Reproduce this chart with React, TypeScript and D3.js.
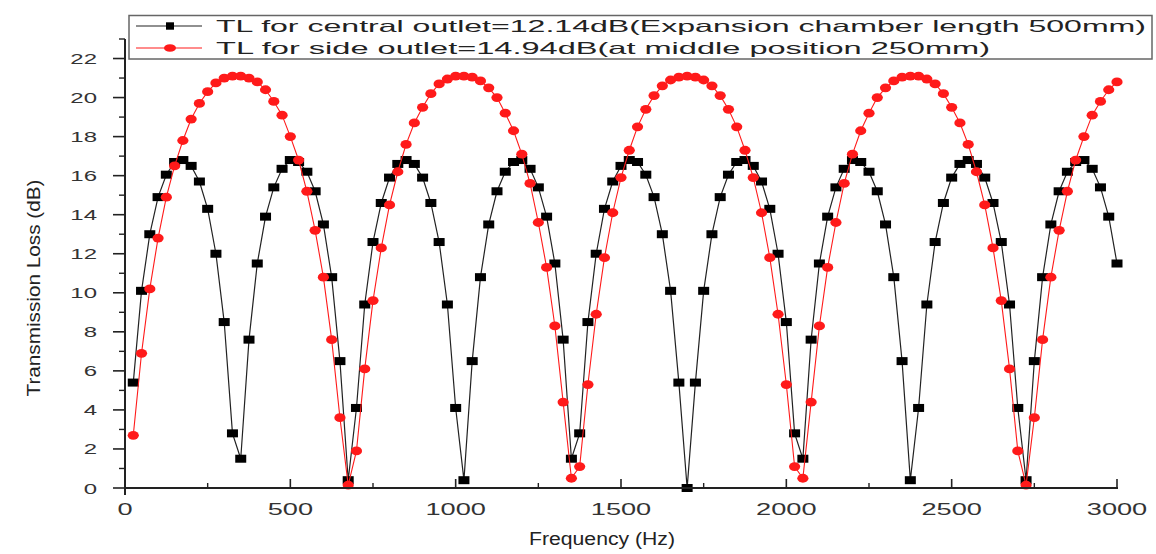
import * as d3 from 'd3';

// frequency grid (one marker every 25 Hz)
const FREQ_HZ = [
  25, 50, 75, 100, 125, 150, 175, 200, 225, 250, 275, 300, 325, 350, 375, 400, 425, 450, 475, 500,
  525, 550, 575, 600, 625, 650, 675, 700, 725, 750, 775, 800, 825, 850, 875, 900, 925, 950, 975, 1000,
  1025, 1050, 1075, 1100, 1125, 1150, 1175, 1200, 1225, 1250, 1275, 1300, 1325, 1350, 1375, 1400, 1425, 1450, 1475, 1500,
  1525, 1550, 1575, 1600, 1625, 1650, 1675, 1700, 1725, 1750, 1775, 1800, 1825, 1850, 1875, 1900, 1925, 1950, 1975, 2000,
  2025, 2050, 2075, 2100, 2125, 2150, 2175, 2200, 2225, 2250, 2275, 2300, 2325, 2350, 2375, 2400, 2425, 2450, 2475, 2500,
  2525, 2550, 2575, 2600, 2625, 2650, 2675, 2700, 2725, 2750, 2775, 2800, 2825, 2850, 2875, 2900, 2925, 2950, 2975, 3000,
];

// TL for central outlet (black squares)
const TL_CENTRAL = [
  5.4, 10.1, 13.0, 14.9, 16.05, 16.7, 16.8, 16.5, 15.7, 14.3, 12.0, 8.5, 2.8, 1.5, 7.6, 11.5, 13.9, 15.4, 16.35, 16.8,
  16.7, 16.2, 15.2, 13.5, 10.8, 6.5, 0.4, 4.1, 9.4, 12.6, 14.6, 15.9, 16.6, 16.8, 16.6, 15.9, 14.6, 12.6, 9.4, 4.1,
  0.4, 6.5, 10.8, 13.5, 15.2, 16.2, 16.7, 16.8, 16.35, 15.4, 13.9, 11.5, 7.6, 1.5, 2.8, 8.5, 12.0, 14.3, 15.7, 16.5,
  16.8, 16.7, 16.05, 14.9, 13.0, 10.1, 5.4, 0, 5.4, 10.1, 13.0, 14.9, 16.05, 16.7, 16.8, 16.5, 15.7, 14.3, 12.0, 8.5,
  2.8, 1.5, 7.6, 11.5, 13.9, 15.4, 16.35, 16.8, 16.7, 16.2, 15.2, 13.5, 10.8, 6.5, 0.4, 4.1, 9.4, 12.6, 14.6, 15.9,
  16.6, 16.8, 16.6, 15.9, 14.6, 12.6, 9.4, 4.1, 0.4, 6.5, 10.8, 13.5, 15.2, 16.2, 16.7, 16.8, 16.35, 15.4, 13.9, 11.5,
];

// TL for side outlet (red circles)
const TL_SIDE = [
  2.7, 6.9, 10.2, 12.8, 14.9, 16.5, 17.8, 18.9, 19.7, 20.3, 20.75, 21.0, 21.1, 21.1, 21.0, 20.8, 20.4, 19.8, 19.1, 18.0,
  16.8, 15.2, 13.2, 10.8, 7.6, 3.6, 0.15, 1.9, 6.1, 9.6, 12.3, 14.5, 16.2, 17.6, 18.7, 19.5, 20.2, 20.7, 20.95, 21.1,
  21.1, 21.05, 20.85, 20.5, 20.0, 19.2, 18.3, 17.1, 15.6, 13.6, 11.3, 8.3, 4.4, 0.5, 1.1, 5.3, 8.9, 11.8, 14.1, 15.9,
  17.3, 18.5, 19.4, 20.1, 20.6, 20.9, 21.05, 21.1, 21.05, 20.9, 20.6, 20.1, 19.4, 18.5, 17.3, 15.9, 14.1, 11.8, 8.9, 5.3,
  1.1, 0.5, 4.4, 8.3, 11.3, 13.6, 15.6, 17.1, 18.3, 19.2, 20.0, 20.5, 20.85, 21.05, 21.1, 21.1, 20.95, 20.7, 20.2, 19.5,
  18.7, 17.6, 16.2, 14.5, 12.3, 9.6, 6.1, 1.9, 0.15, 3.6, 7.6, 10.8, 13.2, 15.2, 16.8, 18.0, 19.1, 19.8, 20.4, 20.8,
];

const X_TICKS = [0, 500, 1000, 1500, 2000, 2500, 3000];
const X_MINOR = [250, 750, 1250, 1750, 2250, 2750];
const Y_TICKS = [0, 2, 4, 6, 8, 10, 12, 14, 16, 18, 20, 22];
const Y_MINOR = [1, 3, 5, 7, 9, 11, 13, 15, 17, 19, 21, 23];

const LEGEND_LABELS = [
  'TL for central outlet=12.14dB(Expansion chamber length 500mm)',
  'TL for side outlet=14.94dB(at middle position 250mm)',
];

const FONT = '"Liberation Sans", Arial, sans-serif';
const RED = '#ff1a1a';

export default function App() {
  const width = 1156;
  const height = 554;

  const x = d3.scaleLinear().domain([0, 3000]).range([125, 1117]);
  const y = d3.scaleLinear().domain([0, 23]).range([488, 39]);

  const central = FREQ_HZ.map((f, i) => ({ f, v: TL_CENTRAL[i] }));
  const side = FREQ_HZ.map((f, i) => ({ f, v: TL_SIDE[i] }));

  const line = d3.line<{ f: number; v: number }>()
    .x(d => x(d.f))
    .y(d => y(d.v));

  const y0 = y(0);

  return (
    <svg
      width={width}
      height={height}
      style={{ position: 'absolute', left: 0, top: 0, background: '#fff' }}
      fontFamily={FONT}
    >
      {/* series: central outlet */}
      <path d={line(central) || ''} fill="none" stroke="#222" strokeWidth={1.2} />
      {central.map((d, i) => (
        <rect key={'c' + i} x={x(d.f) - 5.5} y={y(d.v) - 4} width={11} height={8} fill="#000" />
      ))}

      {/* series: side outlet */}
      <path d={line(side) || ''} fill="none" stroke={RED} strokeWidth={1.1} />
      {side.map((d, i) => (
        <ellipse key={'s' + i} cx={x(d.f)} cy={y(d.v)} rx={5.6} ry={4.4} fill={RED} />
      ))}

      {/* axes */}
      <line x1={x(0)} x2={x(0)} y1={y(23)} y2={y0 + 7} stroke="#222" strokeWidth={2} />
      <line x1={x(0) - 1} x2={x(3000) + 1} y1={y0} y2={y0} stroke="#222" strokeWidth={2} />

      {Y_TICKS.map(t => (
        <g key={'yt' + t}>
          <line x1={x(0) - 12} x2={x(0)} y1={y(t)} y2={y(t)} stroke="#222" strokeWidth={1.6} />
          <text
            transform={`translate(97,${y(t) + 5.5}) scale(1.6,1)`}
            textAnchor="end"
            fontSize={15}
            fill="#333"
          >
            {t}
          </text>
        </g>
      ))}
      {Y_MINOR.map(t => (
        <line key={'ym' + t} x1={x(0) - 6} x2={x(0)} y1={y(t)} y2={y(t)} stroke="#222" strokeWidth={1.4} />
      ))}

      {X_TICKS.map(t => (
        <g key={'xt' + t}>
          {t > 0 && <line x1={x(t)} x2={x(t)} y1={y0} y2={y0 - 9} stroke="#222" strokeWidth={1.6} />}
          <text
            transform={`translate(${x(t)},${y0 + 27}) scale(1.7,1)`}
            textAnchor="middle"
            fontSize={16}
            fill="#333"
          >
            {t}
          </text>
        </g>
      ))}
      {X_MINOR.map(t => (
        <line key={'xm' + t} x1={x(t)} x2={x(t)} y1={y0} y2={y0 - 5} stroke="#222" strokeWidth={1.4} />
      ))}

      {/* axis titles */}
      <text
        x={602}
        y={545}
        textAnchor="middle"
        fontSize={18}
        fill="#222"
        textLength={146}
        lengthAdjust="spacingAndGlyphs"
      >
        Frequency (Hz)
      </text>
      <text
        transform="translate(40,288) rotate(-90)"
        textAnchor="middle"
        fontSize={18}
        fill="#222"
        textLength={217}
        lengthAdjust="spacingAndGlyphs"
      >
        Transmission Loss (dB)
      </text>

      {/* legend */}
      <rect x={129} y={15.5} width={1023} height={43.5} fill="#fff" stroke="#666" strokeWidth={1.5} />
      <line x1={136} x2={202} y1={26} y2={26} stroke="#222" strokeWidth={1.2} />
      <rect x={166} y={22.3} width={8} height={7.4} fill="#000" />
      <line x1={136} x2={202} y1={48} y2={48} stroke={RED} strokeWidth={1.1} />
      <ellipse cx={170} cy={48} rx={6} ry={3.8} fill={RED} />
      <text x={216} y={32} fontSize={16.5} fill="#222" textLength={930} lengthAdjust="spacingAndGlyphs">
        {LEGEND_LABELS[0]}
      </text>
      <text x={216} y={54} fontSize={16.5} fill="#222" textLength={774} lengthAdjust="spacingAndGlyphs">
        {LEGEND_LABELS[1]}
      </text>
    </svg>
  );
}
